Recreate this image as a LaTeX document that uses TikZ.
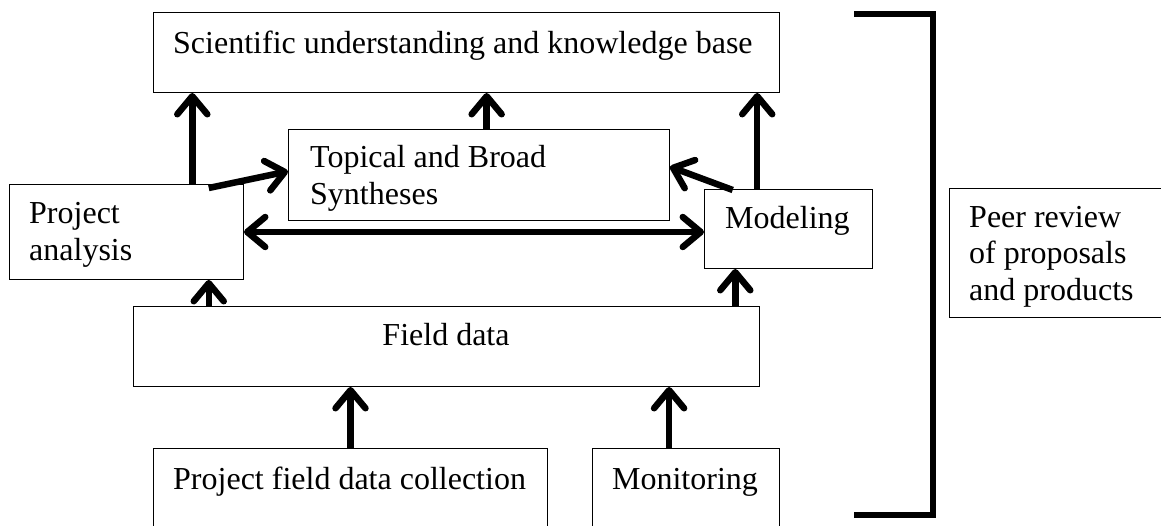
\documentclass[tikz,border=0pt]{standalone}
\usepackage{fontspec}
\setmainfont{Liberation Serif}
\usetikzlibrary{arrows.meta,calc}

\begin{document}
\begin{tikzpicture}[x=1pt,y=-1pt,
    >={Straight Barb[length=18pt,width=30pt,round]},
    box/.style={draw,line width=1pt,anchor=north west,inner sep=0pt},
    lbl/.style={anchor=base west,inner sep=0pt,align=left,font=\fontsize{32}{36.5}\selectfont},
    flow/.style={line width=6.5pt,->}]
  \useasboundingbox (0,0) rectangle (1161,525);

  % boxes
  \node[box,minimum width=626pt,minimum height=80pt] (sci) at (153,12) {};
  \node[box,minimum width=381pt,minimum height=91pt] (top) at (288,129) {};
  \node[box,minimum width=234pt,minimum height=95pt] (pa) at (9,184) {};
  \node[box,minimum width=168pt,minimum height=79pt] (mod) at (704,189) {};
  \node[box,minimum width=626pt,minimum height=80pt] (fld) at (133,306) {};
  \node[box,minimum width=394pt,minimum height=100pt] (coll) at (153,448) {};
  \node[box,minimum width=187pt,minimum height=100pt] (mon) at (592,448) {};
  \node[box,minimum width=230pt,minimum height=129pt] (peer) at (949,188) {};

  % texts (base = last line)
  \node[lbl] (sci-t) at (173,53) {Scientific understanding and knowledge base};
  \node[lbl] (top-t) at (310,204) {Topical and Broad\\Syntheses};
  \node[lbl] (pa-t) at (29,260) {Project\\analysis};
  \node[lbl] (mod-t) at (725,228) {Modeling};
  \node[lbl,anchor=base] (fld-t) at (446,345) {Field data};
  \node[lbl] (coll-t) at (173,489) {Project field data collection};
  \node[lbl,anchor=base] (mon-t) at (685,489) {Monitoring};
  \node[lbl] (peer-t) at (969,300) {Peer review\\of proposals\\and products};

  % arrows
  \draw[flow] ($(pa.north west)!.78!(pa.north east)$) coordinate (a1) -- (a1 |- sci.south);
  \draw[flow] ($(top.north west)!.52!(top.north east)$) coordinate (a2) -- (a2 |- sci.south);
  \draw[flow] ($(mod.north west)!.315!(mod.north east)$) coordinate (a3) -- (a3 |- sci.south);
  \draw[flow] ($(pa.north west)!.85!(pa.north east)$) ++(0,4) -- ($(top.north west)!.46!(top.south west)$);
  \draw[flow] ($(mod.north west)!.17!(mod.north east)$) ++(0,1) -- ($(top.north east)!.41!(top.south east)$);
  \draw[flow,<->] (pa.east) -- (pa.east -| mod.west);
  \draw[flow] ($(pa.south west)!.85!(pa.south east)$) coordinate (a4) (a4 |- fld.north) -- (a4);
  \draw[flow] ($(mod.south west)!.185!(mod.south east)$) coordinate (a5) (a5 |- fld.north) -- (a5);
  \draw[flow] (coll.north) -- (coll.north |- fld.south);
  \draw[flow] ($(mon.north west)!.41!(mon.north east)$) coordinate (a6) -- (a6 |- fld.south);

  % bracket
  \coordinate (br-top) at (854,14);
  \coordinate (br-bot) at (854,515);
  \draw[line width=6pt] (br-top) -| (933,515) -- (br-bot);
\end{tikzpicture}
\end{document}
